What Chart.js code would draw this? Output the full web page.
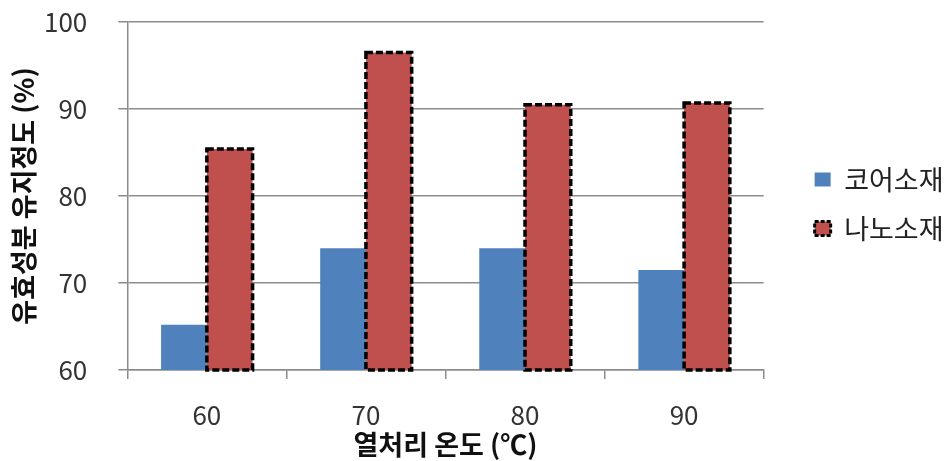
<!DOCTYPE html>
<html>
<head>
<meta charset="utf-8">
<script src="https://cdn.jsdelivr.net/npm/chart.js@4/dist/chart.umd.min.js"></script>
<style>
  html, body { margin: 0; padding: 0; background: #ffffff; }
  #wrap { width: 950px; height: 461px; }
</style>
</head>
<body>
<div id="wrap"><canvas id="chart" width="950" height="461"></canvas></div>
<script>
// Heat-treatment temperature (°C) categories
const temperatures = ['60', '70', '80', '90'];
// Active-ingredient retention (%) per material
const coreValues = [65.2, 74.0, 74.0, 71.5];
const nanoValues = [85.4, 96.5, 90.5, 90.7];
const seriesNames = ['코어소재', '나노소재'];
const yTickValues = [60, 70, 80, 90, 100];

const FONT = "'Noto Sans CJK KR', 'Noto Sans', sans-serif";
const GRID = '#8c8c8c';
const BLUE = '#4f81bd';
const RED = '#c0504d';
const DASH = [7, 3];

// Dashed black outline around the nano-material bars
const dashedOutline = {
  id: 'dashedOutline',
  afterDatasetsDraw(chart) {
    const meta = chart.getDatasetMeta(1);
    const ctx = chart.ctx;
    const bottom = chart.chartArea.bottom;
    ctx.save();
    ctx.strokeStyle = '#000000';
    ctx.lineWidth = 3.5;
    ctx.setLineDash(DASH);
    meta.data.forEach(bar => {
      const p = bar.getProps(['x', 'y', 'base', 'width'], true);
      const base = Math.min(p.base, bottom);
      ctx.strokeRect(p.x - p.width / 2, p.y, p.width, base - p.y);
    });
    ctx.restore();
  }
};

// Move the legend items away from the plot area
const legendShift = {
  id: 'legendShift',
  afterLayout(chart) {
    const lg = chart.legend;
    lg.left += 29; lg.right += 29;
    lg.top += 8; lg.bottom += 8;
  }
};

new Chart(document.getElementById('chart'), {
  type: 'bar',
  data: {
    labels: temperatures,
    datasets: [
      { label: seriesNames[0], data: coreValues, backgroundColor: BLUE, borderWidth: 0 },
      { label: seriesNames[1], data: nanoValues, backgroundColor: RED, borderWidth: 0 }
    ]
  },
  options: {
    responsive: false,
    animation: false,
    events: [],
    layout: { padding: { left: 0, top: 22, right: 25.5, bottom: 0 } },
    datasets: { bar: { categoryPercentage: 0.575, barPercentage: 1.0 } },
    plugins: {
      tooltip: { enabled: false },
      legend: {
        position: 'right',
        fullSize: false,
        labels: {
          font: { family: FONT, size: 27 },
          color: '#222222',
          boxWidth: 16,
          boxHeight: 14,
          padding: 22,
          generateLabels(chart) {
            const items = Chart.defaults.plugins.legend.labels.generateLabels(chart);
            items.forEach((it, i) => {
              if (i === 1) {
                it.strokeStyle = '#000000';
                it.lineWidth = 3;
                it.lineDash = [4, 2];
              } else {
                it.lineWidth = 0;
              }
            });
            return items;
          }
        }
      }
    },
    scales: {
      x: {
        grid: { drawOnChartArea: false, drawTicks: true, tickLength: 9, color: GRID, lineWidth: 1.5, offset: true },
        border: { display: true, color: GRID, width: 1.5 },
        ticks: { font: { family: FONT, size: 26 }, color: '#333333', padding: 21 },
        title: {
          display: true,
          text: '열처리 온도 (℃)',
          font: { family: FONT, size: 27, weight: 'bold' },
          color: '#111111',
          padding: { top: -23.6, bottom: 0 }
        }
      },
      y: {
        min: 60,
        max: 100,
        afterBuildTicks(scale) { scale.ticks = yTickValues.map(v => ({ value: v })); },
        afterFit(scale) { scale.paddingTop = 0; scale.paddingBottom = 0; },
        grid: { color: GRID, lineWidth: 1.5, tickLength: 9 },
        border: { display: true, color: GRID, width: 1.5 },
        ticks: { font: { family: FONT, size: 26 }, color: '#333333', padding: 31 },
        title: {
          display: true,
          text: '유효성분 유지정도 (%)',
          font: { family: FONT, size: 27, weight: 'bold' },
          color: '#111111',
          padding: { top: 8, bottom: -27.4 }
        }
      }
    }
  },
  plugins: [dashedOutline, legendShift]
});
</script>
</body>
</html>
